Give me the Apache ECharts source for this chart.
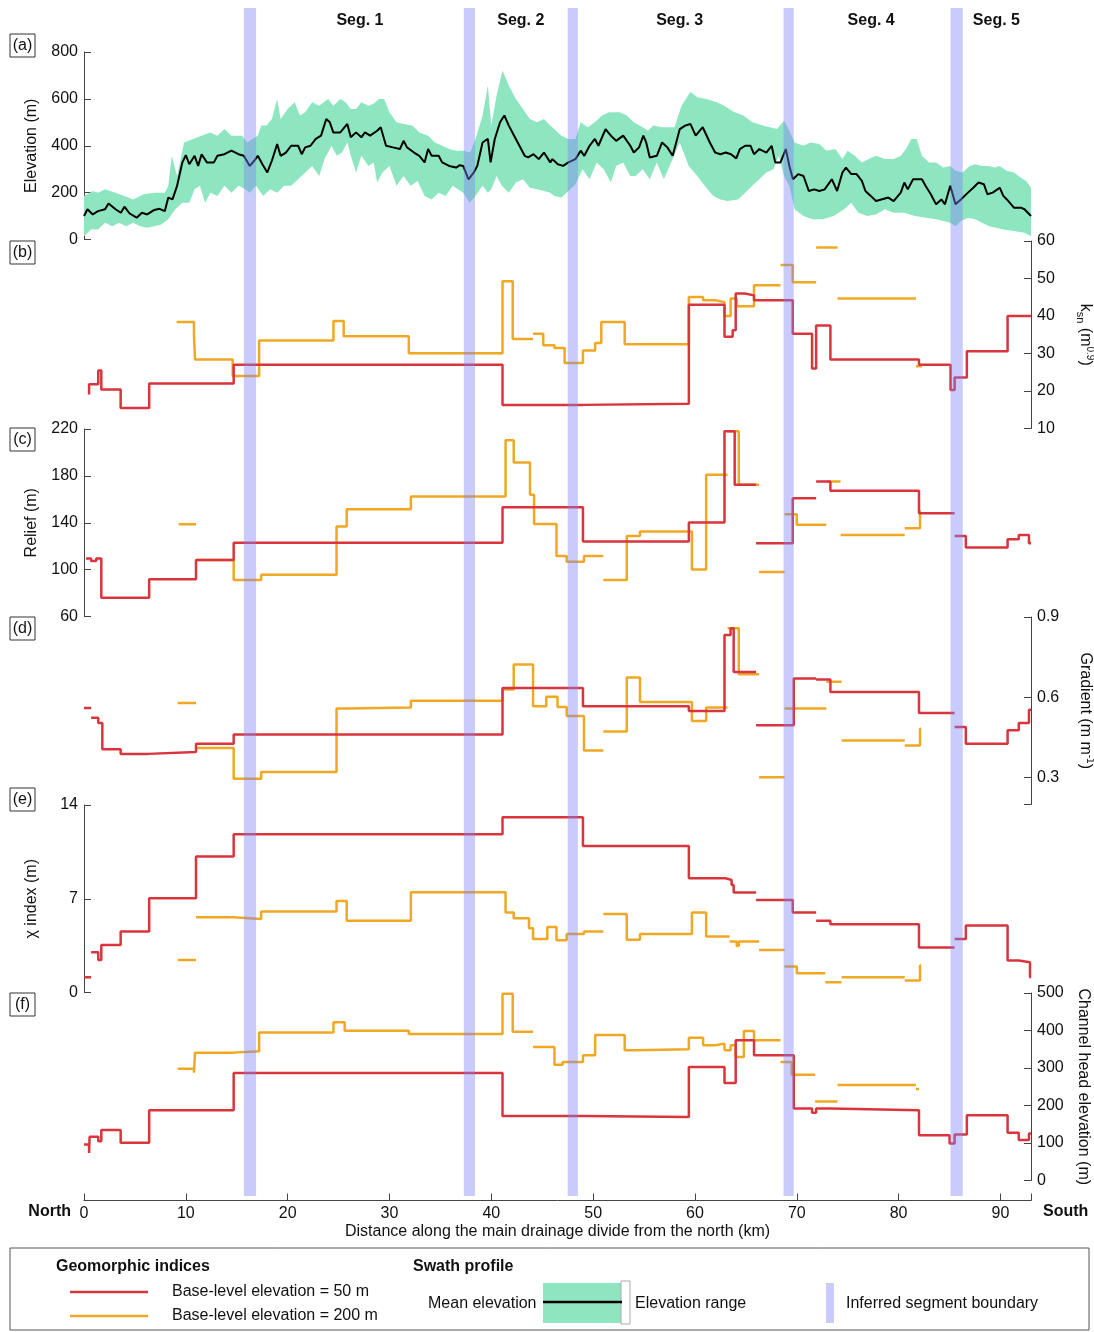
<!DOCTYPE html>
<html><head><meta charset="utf-8">
<script src="https://cdn.jsdelivr.net/npm/echarts@6/dist/echarts.min.js"></script>
<style>html,body{margin:0;padding:0;background:#fff}#c{width:1094px;height:1332px}</style>
</head><body><div id="c"></div>
<script>
// ---------- DATA ----------
const xTickValues = [0,10,20,30,40,50,60,70,80,90,93];
const xLabelValues = [0,10,20,30,40,50,60,70,80,90];
const segBoundaries = [[15.7,16.9],[37.3,38.4],[47.5,48.5],[68.7,69.7],[85.1,86.3]];
const segLabels = ['Seg. 1','Seg. 2','Seg. 3','Seg. 4','Seg. 5'];
const segLabelX = [27.1,42.9,58.5,77.3,89.6];

const meanElev = [[0,100],[0.34,129],[0.86,107],[1.38,121],[2.07,129],[2.41,154],[3.1,129],[3.62,114],[3.97,140],[4.48,111],[5.17,93],[5.69,114],[6.21,107],[6.9,126],[7.41,131],[7.93,121],[8.28,179],[8.69,171],[9.14,229],[9.66,329],[10.0,360],[10.34,321],[10.86,357],[11.21,314],[11.55,364],[12.07,329],[12.76,329],[13.1,357],[13.79,364],[14.48,379],[15.17,364],[15.69,357],[16.28,314],[16.72,336],[17.07,357],[17.52,321],[18.0,286],[18.45,336],[18.97,407],[19.31,357],[19.83,371],[20.34,400],[21.03,400],[21.38,364],[21.72,393],[22.24,400],[22.76,429],[23.28,443],[23.79,514],[24.14,500],[24.48,457],[25.17,457],[25.86,493],[26.2,436],[26.72,457],[27.24,436],[27.59,457],[28.1,443],[28.79,464],[29.14,479],[29.66,400],[30.34,393],[31.03,386],[31.38,421],[31.72,393],[32.41,371],[32.93,357],[33.45,329],[33.79,386],[34.14,357],[34.83,357],[35.17,329],[35.86,314],[36.55,307],[36.9,317],[37.24,314],[37.76,257],[38.28,286],[38.62,314],[39.14,414],[39.66,429],[39.93,329],[40.34,429],[40.86,500],[41.28,529],[41.72,486],[42.24,443],[42.76,400],[43.28,357],[43.62,350],[44.14,364],[44.66,343],[45.17,371],[45.79,329],[46.0,343],[46.53,321],[47.05,314],[47.57,329],[48.26,343],[48.78,379],[49.13,357],[49.65,400],[50.17,429],[50.52,400],[51.22,471],[51.74,443],[52.26,421],[52.95,443],[53.65,400],[53.99,371],[54.51,393],[54.93,443],[55.21,414],[55.56,350],[56.25,357],[56.77,414],[57.29,393],[57.81,357],[58.51,471],[59.03,486],[59.55,493],[60.07,443],[60.76,479],[61.46,414],[61.98,371],[62.5,364],[63.02,371],[63.54,364],[64.06,346],[64.41,386],[64.93,400],[65.45,400],[65.8,364],[66.32,386],[67.01,371],[67.53,400],[67.88,329],[68.4,329],[68.92,386],[69.27,314],[69.62,257],[70.14,279],[70.66,271],[71.18,207],[71.7,214],[72.22,207],[72.74,214],[73.44,257],[73.96,207],[74.48,286],[74.83,307],[75.35,279],[75.87,279],[76.39,250],[76.74,207],[77.26,186],[77.78,164],[78.3,171],[78.99,179],[79.51,164],[80.21,200],[80.56,243],[80.9,214],[81.42,257],[82.29,257],[82.64,229],[83.16,193],[83.68,150],[84.2,171],[84.55,150],[85.07,229],[85.59,150],[86.11,171],[86.81,200],[87.33,221],[87.85,243],[88.37,236],[88.72,193],[89.24,200],[89.93,221],[90.28,186],[90.63,171],[91.32,136],[92.01,136],[92.36,129],[93.0,100]];

const elevUpper = [[0,186],[0.86,207],[1.38,200],[2.07,214],[3.1,200],[3.97,186],[4.83,171],[5.86,193],[6.9,200],[7.93,200],[8.28,229],[8.62,357],[9.14,271],[9.83,414],[10.69,429],[11.55,443],[12.41,457],[13.1,443],[13.79,471],[14.48,443],[15.52,443],[16.03,414],[16.55,429],[17.07,443],[17.41,486],[17.93,486],[18.45,514],[18.97,600],[19.31,514],[20.0,557],[20.69,586],[21.21,529],[21.72,543],[22.41,586],[23.1,571],[23.97,600],[24.48,571],[25.17,600],[25.69,586],[26.2,557],[26.72,557],[27.24,586],[27.93,571],[28.45,579],[28.97,600],[29.48,600],[30.0,543],[30.69,500],[31.38,493],[32.24,486],[32.93,457],[33.79,443],[34.48,414],[35.17,400],[35.86,386],[36.55,379],[37.24,379],[37.93,371],[38.45,429],[39.14,529],[39.66,657],[40.0,486],[40.52,614],[41.1,721],[41.72,657],[42.41,600],[43.1,557],[43.79,514],[44.48,500],[45.17,514],[45.79,486],[46.18,471],[46.88,443],[47.57,429],[48.26,429],[48.78,500],[49.48,479],[50.17,500],[50.87,529],[51.56,543],[52.6,543],[53.3,529],[53.99,500],[54.86,479],[55.38,464],[55.9,486],[56.77,479],[57.99,479],[58.68,571],[59.55,629],[60.24,607],[61.11,600],[62.15,586],[62.85,571],[63.89,543],[64.76,529],[65.63,500],[66.67,486],[67.36,479],[68.06,471],[68.75,507],[69.27,464],[69.79,414],[70.66,400],[71.35,414],[72.22,407],[72.92,379],[73.78,386],[74.48,343],[75.0,379],[75.69,357],[76.39,329],[77.08,343],[77.78,357],[78.65,343],[79.51,343],[80.21,357],[80.73,386],[81.25,429],[81.77,429],[82.29,357],[82.99,329],[83.68,329],[84.38,307],[85.07,314],[85.59,293],[86.28,286],[86.98,314],[87.5,321],[88.19,314],[88.89,314],[89.41,307],[89.93,314],[90.63,293],[91.32,286],[92.01,264],[92.53,250],[93.0,221]];

const elevLower = [[0,14],[0.69,43],[1.38,43],[2.07,71],[2.76,57],[3.45,71],[4.14,57],[4.83,71],[5.52,57],[6.21,50],[6.9,57],[7.59,64],[8.28,86],[8.97,129],[9.66,157],[10.34,157],[10.86,214],[11.38,229],[11.9,157],[12.41,200],[13.1,186],[13.79,229],[14.48,200],[15.17,229],[15.86,214],[16.28,200],[16.9,229],[17.59,186],[18.28,214],[18.97,200],[19.66,229],[20.34,229],[21.03,257],[21.72,286],[22.41,314],[23.1,271],[23.62,343],[24.31,400],[24.83,357],[25.34,371],[25.86,414],[26.2,357],[26.72,286],[27.24,357],[27.93,314],[28.45,329],[28.79,243],[29.31,286],[30.0,314],[30.69,229],[31.38,271],[32.07,229],[32.76,250],[33.45,186],[34.14,171],[34.83,200],[35.52,186],[36.21,229],[36.72,214],[37.24,200],[37.86,157],[38.45,186],[39.14,229],[39.66,200],[40.0,214],[40.52,271],[41.03,229],[41.72,200],[42.41,243],[43.1,257],[43.79,221],[44.48,214],[45.17,207],[45.79,200],[46.18,186],[46.88,179],[47.57,207],[48.26,236],[48.96,300],[49.65,257],[50.35,329],[51.04,300],[51.74,243],[52.26,314],[52.95,329],[53.65,271],[54.17,271],[54.86,300],[55.56,257],[56.25,329],[56.94,257],[57.81,343],[58.51,414],[59.38,314],[60.24,271],[60.94,229],[61.81,186],[62.5,171],[63.19,164],[64.24,171],[64.93,200],[65.63,229],[66.32,257],[67.01,286],[67.71,300],[68.23,357],[68.75,271],[69.27,229],[69.79,129],[70.66,100],[71.53,86],[72.57,86],[73.61,100],[74.65,129],[75.35,157],[76.04,114],[76.91,100],[77.78,107],[78.65,129],[79.51,114],[80.56,114],[81.6,100],[82.64,93],[83.68,86],[85.07,71],[85.59,57],[86.11,79],[86.81,93],[87.5,86],[88.19,71],[88.89,57],[89.58,50],[90.28,43],[91.32,36],[92.36,29],[93.0,14]];

// step series: each segment is a list of [start km, value]; last point closes the segment
const ksn50 = [
 [[0.5,19.1],[0.5,21.8],[1.4,25.5],[1.7,20.4],[3.6,15.5],[6.4,22.0],[14.7,27.0],[41.1,16.3],[49.0,16.6],[59.4,43.0],[62.9,34.5],[63.7,36.2],[64.0,46.0],[64.9,45.5],[65.8,44.2],[69.6,35.3],[71.5,26.0],[71.9,37.5],[73.3,28.4],[82.0,27.0],[85.1,20.3],[85.5,23.6],[86.7,30.6],[90.7,40.0],[93,40.0]]
];
const ksn200 = [
 [[9.1,38.4],[10.8,34.9],[10.9,28.4],[14.6,24.0],[17.2,33.5],[24.5,38.7],[25.5,34.6],[31.9,30.1],[41.1,49.3],[42.1,33.9],[43.4,33.9]],
 [[44.1,35.3],[45.1,32.2],[46.2,31.5],[47.2,27.5],[49.0,30.8],[50.2,32.8],[50.8,38.4],[53.1,32.5],[59.4,45.1],[60.8,44.2],[62.0,43.7],[62.9,40.0],[63.5,44.7],[64.1,42.6],[65.8,48.2],[68.1,48.2]],
 [[68.4,53.6],[69.6,49.0],[70.9,49.0]],
 [[71.9,58.3],[72.4,58.3]],
 [[74.0,44.7],[75.7,44.7]],
 [[81.7,26.6],[82.3,26.6]]
];
const relief50 = [
 [[0.2,109.6],[0.7,107.4],[1.2,109.6],[1.7,76],[3.6,76],[6.4,91.7],[11.0,108.2],[14.7,123],[41.1,153.3],[49.0,123.9],[59.4,140.2],[62.9,218],[63.9,172.4],[65.0,172.4]],
 [[66.0,122.5],[69.6,161],[71.5,161]],
 [[71.9,175.2],[73.3,167.3],[82.0,148.1],[85.0,148.1]],
 [[85.5,128.8],[86.6,118.8],[90.7,125.9],[91.8,129.6],[92.8,122.5],[93,122.5]]
];
const relief200 = [
 [[9.3,138.7],[10.9,138.7]],
 [[11.0,108.2],[14.7,91.1],[17.4,95.7],[24.8,136.7],[25.8,151.6],[32.1,162.4],[41.4,210.3],[42.2,191.5],[43.8,163.8],[44.2,139],[46.4,111.6],[47.4,106.8],[49.1,111.6],[50.3,111.6]],
 [[51.0,91.1],[53.3,128.8],[54.6,132.5],[59.7,100.2],[61.1,181],[62.3,181]],
 [[63.2,218],[64.3,172.4],[65.0,172.4]],
 [[66.3,98],[68.6,98]],
 [[68.8,147.3],[70.0,138.2],[71.4,138.2]],
 [[72.9,175.2],[73.5,175.2]],
 [[74.3,129.6],[76.1,129.6]],
 [[80.6,135.3],[82.1,149.6],[82.2,149.6]]
];
const grad50 = [
 [[0.0,0.56],[0.5,0.56]],
 [[0.7,0.524],[1.4,0.504],[1.8,0.406],[3.6,0.389],[6.3,0.396],[11.0,0.427],[14.7,0.461],[41.1,0.635],[49.0,0.567],[59.4,0.549],[62.9,0.833],[63.5,0.858],[63.8,0.695],[65.0,0.695]],
 [[66.0,0.496],[69.7,0.670],[71.5,0.670]],
 [[71.9,0.667],[73.3,0.620],[82.0,0.542],[85.0,0.542]],
 [[85.5,0.489],[86.6,0.427],[90.7,0.477],[91.8,0.504],[92.8,0.554],[93,0.554]]
];
const grad200 = [
 [[9.2,0.579],[10.9,0.579]],
 [[11.0,0.411],[14.7,0.296],[17.4,0.321],[24.8,0.558],[25.8,0.562],[32.1,0.587],[41.1,0.629],[42.2,0.723],[44.1,0.567],[45.4,0.602],[46.5,0.564],[47.4,0.53],[49.1,0.402],[50.3,0.402]],
 [[51.0,0.473],[53.3,0.674],[54.6,0.583],[59.7,0.512],[61.1,0.562],[62.3,0.562]],
 [[63.2,0.858],[64.3,0.686],[65.0,0.686]],
 [[66.3,0.302],[68.6,0.302]],
 [[68.8,0.558],[71.4,0.558]],
 [[72.9,0.658],[73.5,0.658]],
 [[74.4,0.439],[76.1,0.439]],
 [[80.6,0.42],[82.1,0.483],[82.2,0.483]]
];
const chi50 = [
 [[0.0,1.14],[0.5,1.14]],
 [[0.7,3.0],[1.4,2.43],[1.7,3.55],[3.6,4.55],[6.4,7.04],[11.0,10.15],[14.7,11.81],[41.1,13.08],[49.0,10.94],[59.4,8.53],[63.0,8.40],[63.6,8.03],[63.8,7.46],[64.8,7.46]],
 [[66.0,6.91],[69.6,5.97],[71.5,5.97]],
 [[71.9,5.35],[73.3,5.1],[82.0,3.36],[85.0,3.36]],
 [[85.5,4.0],[86.6,5.0],[90.7,2.39],[91.8,2.26],[92.9,1.14],[93,1.14]]
];
const chi200 = [
 [[9.2,2.43],[10.9,2.43]],
 [[11.0,5.62],[14.7,5.49],[17.4,6.04],[24.8,6.84],[25.8,5.35],[32.1,7.48],[41.4,5.97],[42.2,5.54],[43.7,4.80],[44.1,4.0],[45.5,4.9],[46.4,3.9],[47.4,4.37],[49.1,4.55],[50.3,4.55]],
 [[51.0,5.87],[53.3,3.93],[54.6,4.37],[59.7,5.97],[61.1,4.18],[62.3,4.18]],
 [[63.4,3.8],[64.1,3.48],[64.3,3.8],[65.0,3.8]],
 [[66.3,3.18],[68.6,3.18]],
 [[68.8,1.94],[70.0,1.44],[71.4,1.44]],
 [[72.8,0.77],[73.5,0.77]],
 [[74.4,1.14],[76.1,1.14]],
 [[80.6,0.89],[82.1,2.01],[82.2,2.01]]
];
const che50 = [
 [[0.0,96],[0.5,73.6],[0.55,116.7],[1.4,105],[1.7,134.6],[3.6,100.5],[6.4,187.6],[14.7,286.4],[41.1,172.3],[49.0,169.6],[59.4,302.5],[62.9,260.3],[64.0,374],[65.8,334],[69.7,192],[71.5,181],[71.9,192],[73.3,187.6],[82.0,121],[85.0,98.7],[85.5,122.9],[86.7,174],[90.7,127.5],[91.8,107.7],[92.8,125.6],[93,125.6]]
];
const che200 = [
 [[9.2,298],[10.8,287.3],[10.9,341],[14.6,344.7],[17.2,395],[24.5,422],[25.6,399.5],[31.9,390.5],[41.1,498],[42.1,396.8],[43.4,396.8]],
 [[44.1,356],[46.2,308.8],[47.0,316],[49.0,334],[50.2,387.8],[53.1,347.4],[54.2,350],[59.4,380.6],[60.8,360.9],[62.0,365],[62.9,347.4],[63.5,360.9],[64.0,329.4],[64.8,398.6],[65.8,374.3],[68.1,374.3]],
 [[68.4,316],[69.5,281.9],[70.9,281.9]],
 [[71.8,210.9],[72.4,210.9]],
 [[74.0,255],[75.7,255]],
 [[81.7,244],[82.0,244]]
];

// ---------- STYLE ----------
const RED = '#d8353d', ORANGE = '#f0a823', GREEN = '#8ee6c0', BAND = 'rgba(125,130,245,0.42)';
const FONT = 'Liberation Sans, Arial, sans-serif';
const AXC = '#444';
const G = {left: 84, right: 63};
const tops = [52, 241, 429, 617, 805, 993];
const H = 187.5;

function stepData(segs) {
  const out = [];
  segs.forEach((s, i) => {
    if (i > 0) out.push([s[0][0], '-']);
    s.forEach(p => out.push(p));
  });
  return out;
}

const grids = tops.map(t => ({left: G.left, right: G.right, top: t, height: H, containLabel: false, outerBoundsMode: 'none'}));
grids.push({left: G.left, right: G.right, top: 8, height: 1188, containLabel: false, outerBoundsMode: 'none'});

const xAxes = [];
for (let i = 0; i < 7; i++) {
  if (i === 5) {
    xAxes.push({gridIndex: 5, type: 'value', min: 0, max: 93, position: 'bottom', offset: 20,
      axisLine: {show: true, onZero: false, lineStyle: {color: AXC, width: 1}},
      axisTick: {show: true, inside: true, length: 7, lineStyle: {color: AXC}, customValues: xTickValues},
      axisLabel: {show: true, color: '#111', fontSize: 16, fontFamily: FONT, margin: 5, customValues: xLabelValues},
      splitLine: {show: false},
      name: 'Distance along the main drainage divide from the north (km)', nameLocation: 'middle', nameGap: 23,
      nameTextStyle: {color: '#111', fontSize: 16, fontFamily: FONT}});
  } else {
    xAxes.push({gridIndex: i, type: 'value', min: 0, max: 93, show: false});
  }
}

function yAx(idx, pos, min, max, opts) {
  return Object.assign({
    gridIndex: idx, type: 'value', position: pos, min: min, max: max,
    axisLine: {show: true, onZero: false, lineStyle: {color: AXC, width: 1}},
    axisTick: {show: true, inside: true, length: 7, lineStyle: {color: AXC}},
    axisLabel: {color: '#111', fontSize: 16, fontFamily: FONT, margin: 6},
    splitLine: {show: false},
    nameLocation: 'middle', nameGap: 44,
    nameTextStyle: {color: '#111', fontSize: 16, fontFamily: FONT}
  }, opts);
}
const richName = {sub: {fontSize: 11, fontFamily: FONT, color: '#111', verticalAlign: 'bottom', lineHeight: 20},
                  sup: {fontSize: 10, fontFamily: FONT, color: '#111', verticalAlign: 'top', lineHeight: 20}};

const yAxes = [
  yAx(0, 'left', 0, 800, {interval: 200, name: 'Elevation (m)', nameRotate: 90}),
  yAx(1, 'right', 10, 60, {interval: 10, name: 'k{sub|sn} (m{sup|0.9})', nameRotate: -90,
     nameTextStyle: {color: '#111', fontSize: 16, fontFamily: FONT, rich: richName}}),
  yAx(2, 'left', 60, 220, {name: 'Relief (m)', nameRotate: 90,
     axisTick: {show: true, inside: true, length: 7, lineStyle: {color: AXC}, customValues: [60,100,140,180,220]},
     axisLabel: {color: '#111', fontSize: 16, fontFamily: FONT, margin: 6, customValues: [60,100,140,180,220]}}),
  yAx(3, 'right', 0.2, 0.9, {name: 'Gradient (m m{sup|-1})', nameRotate: -90,
     nameTextStyle: {color: '#111', fontSize: 16, fontFamily: FONT, rich: richName},
     axisTick: {show: true, inside: true, length: 7, lineStyle: {color: AXC}, customValues: [0.2,0.3,0.6,0.9]},
     axisLabel: {color: '#111', fontSize: 16, fontFamily: FONT, margin: 6, customValues: [0.3,0.6,0.9], formatter: v => v.toFixed(1)}}),
  yAx(4, 'left', 0, 14, {interval: 7, name: 'χ index (m)', nameRotate: 90}),
  yAx(5, 'right', 0, 500, {interval: 100, name: 'Channel head elevation (m)', nameRotate: -90}),
  {gridIndex: 6, type: 'value', min: 0, max: 1, show: false}
];

function stepSeries(idx, segs, color) {
  return {type: 'line', xAxisIndex: idx, yAxisIndex: idx, data: stepData(segs), step: 'end',
    showSymbol: false, symbol: 'none', connectNulls: false, silent: true, z: 3,
    lineStyle: {color: color, width: 2.5}, animation: false};
}

const series = [
  {type: 'custom', xAxisIndex: 0, yAxisIndex: 0, data: [[0, 0]], silent: true, z: 1, animation: false,
   renderItem: (params, api) => {
     const pts = elevUpper.map(p => api.coord(p)).concat(elevLower.slice().reverse().map(p => api.coord(p)));
     return {type: 'polygon', shape: {points: pts}, style: {fill: GREEN, stroke: null}};
   }},
  {type: 'line', xAxisIndex: 0, yAxisIndex: 0, data: meanElev, showSymbol: false, symbol: 'none', silent: true, z: 3,
   lineStyle: {color: '#000', width: 2}, animation: false},
  stepSeries(1, ksn200, ORANGE), stepSeries(1, ksn50, RED),
  stepSeries(2, relief200, ORANGE), stepSeries(2, relief50, RED),
  stepSeries(3, grad200, ORANGE), stepSeries(3, grad50, RED),
  stepSeries(4, chi200, ORANGE), stepSeries(4, chi50, RED),
  stepSeries(5, che200, ORANGE), stepSeries(5, che50, RED),
  {type: 'custom', xAxisIndex: 6, yAxisIndex: 6, data: segBoundaries, silent: true, z: 10, animation: false,
   renderItem: (params, api) => {
     const a = api.coord([api.value(0), 1]);
     const b = api.coord([api.value(1), 0]);
     return {type: 'rect', shape: {x: a[0], y: a[1], width: b[0] - a[0], height: b[1] - a[1]}, style: {fill: BAND}};
   }},
  {type: 'custom', xAxisIndex: 6, yAxisIndex: 6, data: segLabelX.map(x => [x, 1]), silent: true, z: 11, animation: false,
   renderItem: (params, api) => {
     const p = api.coord([api.value(0), 1]);
     return {type: 'text', x: p[0], y: p[1] + 13,
       style: {text: segLabels[params.dataIndex], fill: '#111', font: 'bold 16px ' + FONT,
               textAlign: 'center', textVerticalAlign: 'middle', align: 'center', verticalAlign: 'middle'}};
   }}
];

// ---------- GRAPHIC (panel labels, legend) ----------
const graphic = [];
const panelLabels = ['(a)','(b)','(c)','(d)','(e)','(f)'];
const panelLabelY = [46, 253, 440, 629, 800, 1005];
panelLabels.forEach((t, i) => {
  graphic.push({type: 'rect', shape: {x: 10, y: panelLabelY[i] - 12, width: 25, height: 23},
    style: {fill: '#fff', stroke: '#333', lineWidth: 1}});
  graphic.push({type: 'text', x: 22.5, y: panelLabelY[i], style: {text: t, font: '16px ' + FONT, fill: '#111',
    textAlign: 'center', textVerticalAlign: 'middle', align: 'center', verticalAlign: 'middle'}});
});
function txt(x, y, t, bold, align) {
  return {type: 'text', x: x, y: y, style: {text: t, font: (bold ? 'bold ' : '') + '16px ' + FONT, fill: '#111',
    textAlign: align || 'left', textVerticalAlign: 'middle', align: align || 'left', verticalAlign: 'middle'}};
}
graphic.push(txt(71, 1212, 'North', true, 'right'));
graphic.push(txt(1043, 1212, 'South', true, 'left'));
// legend
graphic.push({type: 'rect', shape: {x: 10, y: 1248, width: 1079, height: 82}, style: {fill: 'none', stroke: '#555', lineWidth: 1}});
graphic.push(txt(56, 1267, 'Geomorphic indices', true));
graphic.push({type: 'line', shape: {x1: 70, y1: 1292, x2: 148, y2: 1292}, style: {stroke: RED, lineWidth: 2.5}});
graphic.push(txt(172, 1292, 'Base-level elevation = 50 m'));
graphic.push({type: 'line', shape: {x1: 70, y1: 1316, x2: 148, y2: 1316}, style: {stroke: ORANGE, lineWidth: 2.5}});
graphic.push(txt(172, 1316, 'Base-level elevation = 200 m'));
graphic.push(txt(413, 1267, 'Swath profile', true));
graphic.push(txt(428, 1304, 'Mean elevation'));
graphic.push({type: 'rect', shape: {x: 543, y: 1283, width: 79, height: 40}, style: {fill: GREEN}});
graphic.push({type: 'rect', shape: {x: 621, y: 1281, width: 9, height: 43}, style: {fill: '#fff', stroke: '#aaa', lineWidth: 1}});
graphic.push({type: 'line', shape: {x1: 543, y1: 1302, x2: 622, y2: 1302}, style: {stroke: '#000', lineWidth: 2.5}});
graphic.push(txt(635, 1304, 'Elevation range'));
graphic.push({type: 'rect', shape: {x: 826, y: 1283, width: 8, height: 40}, style: {fill: BAND}});
graphic.push(txt(846, 1304, 'Inferred segment boundary'));

const chart = echarts.init(document.getElementById('c'), null, {renderer: 'canvas'});
chart.setOption({
  backgroundColor: '#fff', animation: false,
  grid: grids, xAxis: xAxes, yAxis: yAxes, series: series, graphic: graphic
});
</script></body></html>
